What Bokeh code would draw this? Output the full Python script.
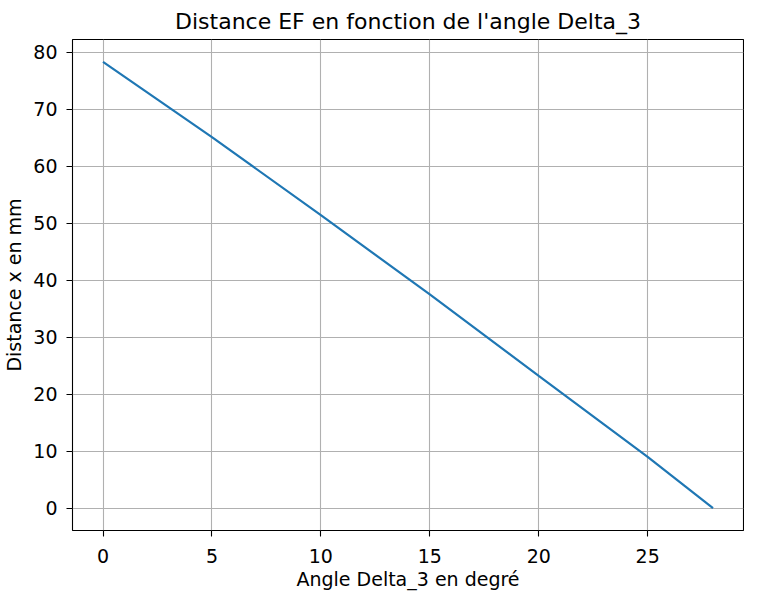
from bokeh.plotting import figure
from bokeh.models import Range1d, FixedTicker
from bokeh.embed import file_html
from bokeh.resources import INLINE

# Data
angle_deg = [0, 5, 10, 15, 20, 25, 28]
distance_mm = [78.3, 65.1, 51.4, 37.5, 23.2, 9.0, 0.0]
x_ticks = [0, 5, 10, 15, 20, 25]
y_ticks = [0, 10, 20, 30, 40, 50, 60, 70, 80]

xmin, xmax = min(angle_deg), max(angle_deg)
ymin, ymax = min(distance_mm), max(distance_mm)
xm = 0.05 * (xmax - xmin)
ym = 0.05 * (ymax - ymin)

FONT = "DejaVu Sans"

p = figure(width=744, height=592, output_backend="svg", toolbar_location=None,
           x_range=Range1d(xmin - xm, xmax + xm), y_range=Range1d(ymin - ym, ymax + ym),
           min_border_left=69, min_border_right=1, min_border_top=10, min_border_bottom=0)

p.title.text = "Distance EF en fonction de l'angle Delta_3"
p.title.align = "center"
p.title.text_font = FONT
p.title.text_font_size = "22px"
p.title.text_font_style = "normal"
p.title.text_color = "black"
p.title.standoff = 12

p.line(angle_deg, distance_mm, line_color="#1f77b4", line_width=2.2)

p.outline_line_color = "black"
p.outline_line_width = 1.1
p.outline_line_alpha = 1
p.background_fill_color = "white"
p.border_fill_color = "white"

for ax, ticks in ((p.xaxis, x_ticks), (p.yaxis, y_ticks)):
    ax.ticker = FixedTicker(ticks=ticks)
    ax.axis_line_color = None
    ax.major_tick_line_color = "black"
    ax.major_tick_line_width = 1.1
    ax.major_tick_out = 6
    ax.major_tick_in = 0
    ax.minor_tick_line_color = None
    ax.major_label_text_font = FONT
    ax.major_label_text_font_size = "19px"
    ax.major_label_text_color = "black"
    ax.axis_label_text_font = FONT
    ax.axis_label_text_font_size = "19px"
    ax.axis_label_text_font_style = "normal"
    ax.axis_label_text_color = "black"

p.xaxis.axis_label = "Angle Delta_3 en degré"
p.yaxis.axis_label = "Distance x en mm"
p.xaxis.major_label_standoff = 12
p.yaxis.major_label_standoff = 9
p.xaxis.axis_label_standoff = 2
p.yaxis.axis_label_standoff = 5

p.grid.grid_line_color = "#b0b0b0"
p.grid.grid_line_width = 1.1

open("out.html", "w").write(file_html(p, INLINE))
